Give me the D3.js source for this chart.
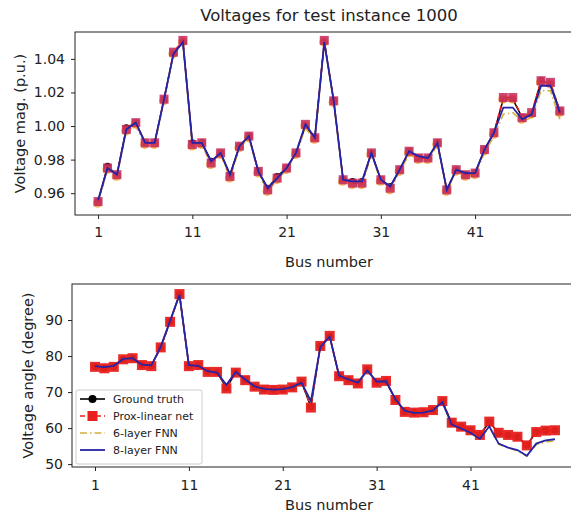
<!DOCTYPE html>
<html>
<head>
<meta charset="utf-8">
<script src="https://cdn.jsdelivr.net/npm/d3@7"></script>
<style>
body { margin: 0; background: #fff; }
text { font-family: "DejaVu Sans", sans-serif; fill: #222; }
</style>
</head>
<body>
<svg id="chart" width="571" height="513"></svg>
<script>
// bus index and tick labels
const buses = [1,2,3,4,5,6,7,8,9,10,11,12,13,14,15,16,17,18,19,20,21,22,23,24,25,
               26,27,28,29,30,31,32,33,34,35,36,37,38,39,40,41,42,43,44,45,46,47,48,49,50];
const xTicks = [1, 11, 21, 31, 41];
const magTicks = [0.96, 0.98, 1.00, 1.02, 1.04];
const angleTicks = [50, 60, 70, 80, 90];

// voltage magnitude (p.u.)
const magTruth = [0.955,0.976,0.971,0.999,1.002,0.990,0.990,1.016,1.043,1.050,
                  0.990,0.990,0.979,0.984,0.971,0.988,0.994,0.973,0.963,0.970,
                  0.975,0.984,1.000,0.993,1.050,1.015,0.968,0.967,0.967,0.984,
                  0.968,0.964,0.974,0.985,0.981,0.981,0.990,0.962,0.974,0.971,
                  0.972,0.986,0.996,1.016,1.016,1.005,1.007,1.027,1.025,1.009];
const magProx  = [0.955,0.975,0.971,0.998,1.002,0.990,0.990,1.016,1.044,1.051,
                  0.989,0.990,0.978,0.984,0.970,0.988,0.994,0.973,0.962,0.969,
                  0.975,0.984,1.001,0.993,1.051,1.015,0.968,0.966,0.966,0.984,
                  0.968,0.963,0.974,0.985,0.981,0.981,0.990,0.962,0.974,0.971,
                  0.972,0.986,0.996,1.017,1.017,1.005,1.008,1.027,1.026,1.009];
const magFnn6  = [0.954,0.974,0.970,0.997,1.000,0.989,0.989,1.015,1.043,1.050,
                  0.988,0.989,0.977,0.983,0.969,0.987,0.993,0.972,0.961,0.968,
                  0.974,0.983,0.999,0.991,1.050,1.014,0.967,0.965,0.965,0.983,
                  0.967,0.962,0.973,0.983,0.980,0.979,0.989,0.961,0.973,0.970,
                  0.971,0.984,0.994,1.007,1.008,1.003,1.005,1.021,1.021,1.004];
const magFnn8  = [0.956,0.975,0.971,0.998,1.002,0.990,0.990,1.016,1.043,1.050,
                  0.990,0.990,0.979,0.984,0.971,0.988,0.994,0.973,0.963,0.969,
                  0.975,0.984,1.001,0.993,1.050,1.015,0.968,0.967,0.967,0.984,
                  0.968,0.964,0.974,0.985,0.982,0.981,0.990,0.962,0.974,0.972,
                  0.972,0.986,0.996,1.011,1.011,1.004,1.007,1.024,1.024,1.008];

// voltage angle (degree)
const angTruth = [77.1,76.7,77.1,79.1,79.4,77.5,77.3,82.4,89.6,97.1,
                  77.3,77.4,75.7,75.5,71.2,75.5,73.4,71.5,70.8,70.6,
                  70.7,71.3,72.8,65.9,82.7,85.5,74.5,73.4,72.5,76.2,
                  72.7,73.1,67.9,64.6,64.3,64.4,65.0,67.4,61.4,60.4,
                  59.4,58.1,61.7,58.6,58.1,57.6,55.3,58.9,59.3,59.4];
const angProx  = [77.0,76.6,77.0,79.1,79.4,77.5,77.2,82.4,89.5,97.2,
                  77.2,77.5,75.6,75.6,71.0,75.4,73.3,71.5,70.7,70.6,
                  70.7,71.3,72.9,65.7,82.8,85.6,74.4,73.3,72.4,76.3,
                  72.6,73.1,67.8,64.5,64.3,64.4,65.0,67.5,61.5,60.4,
                  59.4,58.1,61.8,58.7,58.1,57.6,55.2,58.9,59.3,59.4];
const angFnn6  = [77.1,76.8,77.2,79.0,79.3,77.5,77.3,82.5,89.7,96.9,
                  77.4,77.2,75.7,75.3,71.9,75.5,73.4,71.5,70.8,70.6,
                  70.7,71.3,72.5,67.3,82.4,85.3,74.5,73.4,72.5,75.9,
                  72.8,72.9,67.9,64.7,64.1,64.2,64.8,67.1,60.9,59.8,
                  58.6,56.9,60.3,55.5,54.5,53.7,52.2,55.4,56.2,56.4];
const angFnn8  = [77.2,76.9,77.3,79.2,79.4,77.6,77.4,82.6,89.8,97.0,
                  77.5,77.3,75.8,75.4,72.0,75.6,73.5,71.6,70.9,70.7,
                  70.8,71.4,72.6,67.5,82.5,85.4,74.6,73.5,72.6,76.0,
                  72.9,73.0,68.0,64.8,64.2,64.3,64.9,67.2,61.0,59.9,
                  58.7,57.0,60.5,55.7,54.6,53.9,52.3,55.7,56.6,56.9];

const colors = { truth: "#000000", prox: "#e8201e", fnn6: "#d4b03c", fnn8: "#2424a8" };

const svg = d3.select("#chart");

function drawPanel(cfg) {
    const g = svg.append("g");
    const x = d3.scaleLinear().domain([-1.45, 52.45]).range([cfg.left, cfg.right]);
    const y = d3.scaleLinear().domain(cfg.yDomain).range([cfg.bottom, cfg.top]);

    const clipId = "clip-" + cfg.name;
    svg.append("clipPath").attr("id", clipId)
        .append("rect")
        .attr("x", cfg.left).attr("y", cfg.top)
        .attr("width", cfg.right - cfg.left).attr("height", cfg.bottom - cfg.top);

    const plot = g.append("g").attr("clip-path", `url(#${clipId})`);
    const line = d3.line().x((d, i) => x(buses[i])).y(d => y(d));

    // ground truth
    plot.append("path").datum(cfg.truth)
        .attr("d", line).attr("fill", "none")
        .attr("stroke", colors.truth).attr("stroke-width", 1.5);
    plot.append("g").selectAll("circle").data(cfg.truth).join("circle")
        .attr("cx", (d, i) => x(buses[i])).attr("cy", d => y(d))
        .attr("r", 3.5).attr("fill", colors.truth);

    // 6-layer FNN
    plot.append("path").datum(cfg.fnn6)
        .attr("d", line).attr("fill", "none")
        .attr("stroke", colors.fnn6).attr("stroke-width", 1.6)
        .attr("stroke-dasharray", "7,3,1.5,3");

    // prox-linear net
    if (cfg.halo) {
        // orange fringe seen under the squares in the magnitude panel
        plot.append("g").selectAll("circle").data(cfg.prox).join("circle")
            .attr("cx", (d, i) => x(buses[i]) - 0.5).attr("cy", d => y(d) + 1.5)
            .attr("r", 4.6).attr("fill", "#f2a43a").attr("opacity", 0.85);
    }
    plot.append("path").datum(cfg.prox)
        .attr("d", line).attr("fill", "none")
        .attr("stroke", colors.prox).attr("stroke-width", 1.5)
        .attr("stroke-dasharray", "5,3");
    const s = cfg.squareSize;
    plot.append("g").selectAll("rect").data(cfg.prox).join("rect")
        .attr("x", (d, i) => x(buses[i]) - s / 2).attr("y", d => y(d) - s / 2)
        .attr("width", s).attr("height", s)
        .attr("fill", cfg.squareColor).attr("opacity", cfg.squareOpacity);

    // 8-layer FNN
    plot.append("path").datum(cfg.fnn8)
        .attr("d", line).attr("fill", "none")
        .attr("stroke", colors.fnn8).attr("stroke-width", 1.8);

    // axes
    const xAxis = g.append("g")
        .attr("transform", `translate(0,${cfg.bottom})`)
        .call(d3.axisBottom(x).tickValues(xTicks).tickSize(4).tickPadding(cfg.xPad).tickSizeOuter(0));
    const yAxis = g.append("g")
        .attr("transform", `translate(${cfg.left},0)`)
        .call(d3.axisLeft(y).tickValues(cfg.yTicks).tickFormat(cfg.yFormat).tickSize(4).tickPadding(cfg.yPad).tickSizeOuter(0));
    [xAxis, yAxis].forEach(a => {
        a.select(".domain").remove();
        a.selectAll(".tick line").attr("stroke", "#222");
        a.selectAll(".tick text").attr("font-size", 14).attr("font-family", "DejaVu Sans").attr("fill", "#222");
    });

    g.append("rect")
        .attr("x", cfg.left).attr("y", cfg.top)
        .attr("width", cfg.right - cfg.left).attr("height", cfg.bottom - cfg.top)
        .attr("fill", "none").attr("stroke", "#222").attr("stroke-width", 1);

    g.append("text")
        .attr("x", 329).attr("y", cfg.xLabelY)
        .attr("text-anchor", "middle").attr("font-size", 14.5)
        .text("Bus number");

    g.append("text")
        .attr("transform", `translate(${cfg.yLabelX},${(cfg.top + cfg.bottom) / 2}) rotate(-90)`)
        .attr("text-anchor", "middle").attr("font-size", 14.5)
        .text(cfg.yLabel);

    return { x, y, g };
}

drawPanel({
    name: "mag", left: 75, right: 583, top: 32, bottom: 215,
    yDomain: [0.947, 1.056], yTicks: magTicks, yFormat: d3.format(".2f"),
    truth: magTruth, prox: magProx, fnn6: magFnn6, fnn8: magFnn8,
    halo: true, squareSize: 9, squareColor: "#c8285c", squareOpacity: 0.85,
    xPad: 8, yPad: 6, xLabelY: 267, yLabelX: 25, yLabel: "Voltage mag. (p.u.)"
});

const angPanel = drawPanel({
    name: "ang", left: 72, right: 578, top: 284, bottom: 467,
    yDomain: [49.2, 100], yTicks: angleTicks, yFormat: d3.format("d"),
    truth: angTruth, prox: angProx, fnn6: angFnn6, fnn8: angFnn8,
    halo: false, squareSize: 10, squareColor: colors.prox, squareOpacity: 0.95,
    xPad: 9, yPad: 5, xLabelY: 510, yLabelX: 33, yLabel: "Voltage angle (degree)"
});

svg.append("text")
    .attr("x", 329).attr("y", 21)
    .attr("text-anchor", "middle").attr("font-size", 16.5)
    .text("Voltages for test instance 1000");

// legend
const legendItems = [
    { label: "Ground truth", key: "truth" },
    { label: "Prox-linear net", key: "prox" },
    { label: "6-layer FNN", key: "fnn6" },
    { label: "8-layer FNN", key: "fnn8" }
];
const legend = angPanel.g.append("g").attr("transform", "translate(76,390)");
legend.append("rect")
    .attr("width", 126).attr("height", 74).attr("rx", 2)
    .attr("fill", "#fff").attr("fill-opacity", 0.8)
    .attr("stroke", "#ccc").attr("stroke-width", 1);

legend.selectAll("g.item").data(legendItems).join("g")
    .attr("class", "item")
    .attr("transform", (d, i) => `translate(0,${9 + i * 17})`)
    .each(function (d) {
        const item = d3.select(this);
        const ln = item.append("line")
            .attr("x1", 4).attr("x2", 29).attr("y1", 0).attr("y2", 0)
            .attr("stroke", colors[d.key]).attr("stroke-width", d.key === "fnn8" ? 1.8 : 1.6);
        if (d.key === "prox") ln.attr("stroke-dasharray", "5,3");
        if (d.key === "fnn6") ln.attr("stroke-dasharray", "7,3,1.5,3");
        if (d.key === "truth") {
            item.append("circle").attr("cx", 16.5).attr("cy", 0).attr("r", 4).attr("fill", colors.truth);
        }
        if (d.key === "prox") {
            item.append("rect").attr("x", 11.5).attr("y", -5).attr("width", 10).attr("height", 10).attr("fill", colors.prox);
        }
        item.append("text")
            .attr("x", 37).attr("y", 4)
            .attr("font-size", 11)
            .text(d.label);
    });
</script>
</body>
</html>
